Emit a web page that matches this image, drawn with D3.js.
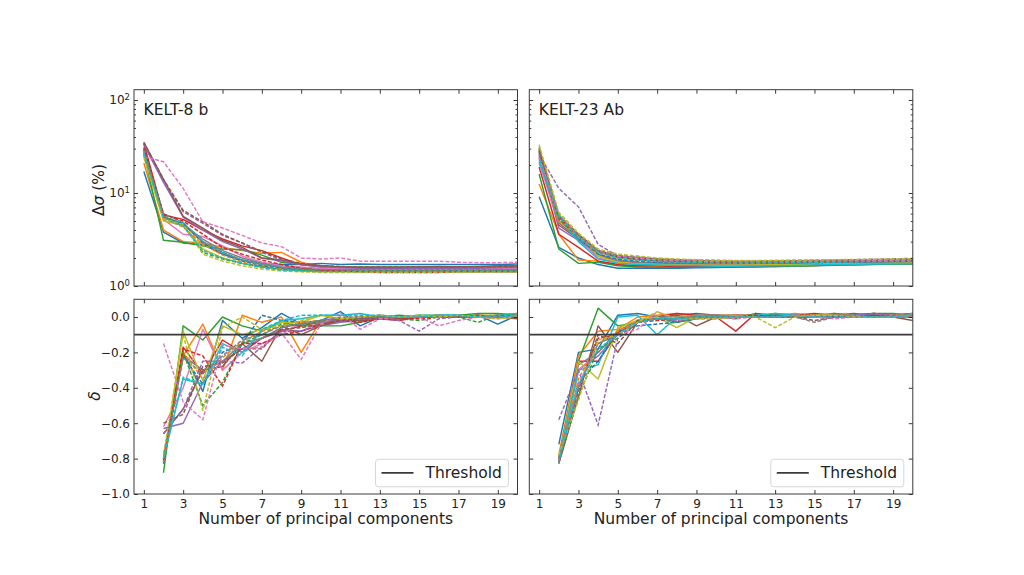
<!DOCTYPE html>
<html><head><meta charset="utf-8">
<script src="https://cdn.jsdelivr.net/npm/d3@7"></script>
<style>body{margin:0;background:#fff} text{font-family:"DejaVu Sans",sans-serif;fill:#222}</style>
</head><body><svg id="c" width="1024" height="575"></svg>
<script>
// ---------------- data ----------------
const colors = ["#1f77b4","#ff7f0e","#2ca02c","#d62728","#9467bd","#8c564b","#e377c2","#7f7f7f","#bcbd22","#17becf"];
const xTicks = [1,3,5,7,9,11,13,15,17,19];
const sigmaTicks = [1,10,100];
const deltaTicks = [0.0,-0.2,-0.4,-0.6,-0.8,-1.0];
const threshold = -0.1;
const titles = ["KELT-8 b","KELT-23 Ab"];

// Δσ (%) for n = 1..20, KELT-8 b
const k8SigmaSolid = [
 [17,3.8,2.9,2.8,2.2,1.9,1.75,1.7,1.7,1.75,1.7,1.72,1.7,1.7,1.7,1.7,1.7,1.7,1.7,1.72],
 [21,4.0,3.0,2.9,2.6,2.4,2.25,2.3,1.8,1.6,1.55,1.55,1.52,1.5,1.5,1.5,1.52,1.5,1.5,1.5],
 [27,3.1,2.95,2.7,2.5,2.45,2.15,1.8,1.7,1.65,1.6,1.6,1.6,1.6,1.6,1.62,1.6,1.62,1.65,1.65],
 [34,5.8,5.2,4.0,3.2,2.7,2.4,2.0,1.7,1.6,1.55,1.55,1.5,1.5,1.5,1.5,1.5,1.5,1.5,1.5],
 [33,13,5.5,4.0,3.0,2.5,2.0,1.85,1.7,1.6,1.55,1.55,1.55,1.55,1.55,1.55,1.55,1.55,1.55,1.55],
 [35,14,5.6,4.2,3.1,2.6,2.0,1.9,1.72,1.65,1.6,1.58,1.58,1.58,1.6,1.6,1.6,1.6,1.6,1.6],
 [30,5.2,3.6,3.4,2.7,2.1,1.8,1.65,1.6,1.55,1.52,1.5,1.5,1.5,1.5,1.5,1.5,1.5,1.52,1.52],
 [29,5.5,4.6,3.2,2.4,2.0,1.75,1.6,1.55,1.5,1.48,1.47,1.47,1.47,1.47,1.47,1.47,1.47,1.47,1.47],
 [25,5.0,4.5,2.5,2.0,1.75,1.6,1.5,1.45,1.42,1.42,1.42,1.42,1.42,1.42,1.42,1.42,1.42,1.42,1.42],
 [28,6.0,4.8,3.0,2.3,1.9,1.7,1.58,1.5,1.47,1.45,1.45,1.45,1.45,1.45,1.45,1.45,1.46,1.46,1.46]
];
const k8SigmaDashed = [
 [30,5.5,4.7,2.9,2.2,1.85,1.65,1.55,1.5,1.48,1.47,1.47,1.46,1.46,1.46,1.46,1.46,1.46,1.46,1.46],
 [28,5.3,4.3,2.8,2.15,1.8,1.62,1.52,1.48,1.45,1.45,1.45,1.45,1.45,1.45,1.45,1.45,1.45,1.45,1.45],
 [26,5.6,4.5,2.3,1.95,1.75,1.6,1.5,1.46,1.44,1.43,1.43,1.43,1.43,1.43,1.43,1.43,1.43,1.44,1.44],
 [31,5.9,5.0,3.6,2.6,2.2,1.9,1.7,1.55,1.48,1.45,1.42,1.4,1.4,1.4,1.4,1.42,1.42,1.42,1.42],
 [34,13.5,6.3,4.7,3.5,2.9,2.3,1.9,1.75,1.65,1.6,1.6,1.58,1.58,1.58,1.58,1.58,1.58,1.58,1.6],
 [35,14,6.5,4.9,3.6,2.9,2.35,1.95,1.75,1.65,1.62,1.6,1.6,1.6,1.6,1.6,1.6,1.6,1.62,1.62],
 [24.6,21.7,11.2,4.9,4.2,3.5,2.9,2.65,2.0,1.95,2.0,1.85,1.85,1.85,1.85,1.85,1.8,1.78,1.78,1.8],
 [29,5.7,4.6,3.0,2.3,1.9,1.7,1.58,1.52,1.5,1.5,1.5,1.5,1.5,1.5,1.5,1.5,1.5,1.5,1.5],
 [24,5.2,4.6,2.2,1.85,1.65,1.52,1.45,1.42,1.4,1.4,1.4,1.4,1.4,1.4,1.4,1.4,1.41,1.41,1.41],
 [27,5.4,4.4,2.4,2.0,1.75,1.58,1.48,1.45,1.43,1.43,1.43,1.43,1.43,1.43,1.43,1.43,1.43,1.43,1.43]
];
// δ for n = 2..20, KELT-8 b
const k8DeltaSolid = [
 [-0.78,-0.20,-0.42,-0.02,-0.12,-0.06,0.02,-0.04,-0.02,0.03,-0.05,0.0,0.0,0.0,0.01,0.0,0.01,-0.04,0.01],
 [-0.81,-0.22,-0.04,-0.30,0.01,-0.03,0.00,-0.20,-0.02,-0.01,0.0,0.0,0.0,0.01,0.0,0.01,0.0,0.01,0.02],
 [-0.88,-0.05,-0.13,0.00,-0.05,-0.08,-0.03,-0.05,-0.05,-0.05,-0.03,0.0,0.01,0.0,0.01,0.01,0.02,0.02,0.01],
 [-0.82,-0.17,-0.32,-0.13,-0.20,-0.12,-0.08,-0.05,-0.03,-0.02,-0.02,-0.01,-0.02,0.0,0.01,0.0,0.01,0.0,0.01],
 [-0.63,-0.60,-0.37,-0.25,-0.18,-0.12,-0.07,-0.08,-0.05,-0.03,-0.02,0.0,0.0,0.0,0.0,0.01,0.0,0.01,0.0],
 [-0.66,-0.52,-0.30,-0.28,-0.15,-0.25,-0.05,-0.10,-0.05,-0.02,-0.02,-0.01,0.0,0.0,0.0,0.0,0.01,0.0,-0.01],
 [-0.62,-0.40,-0.07,-0.30,-0.20,-0.15,-0.10,-0.03,-0.03,-0.01,0.0,0.01,0.0,0.0,0.01,0.0,0.01,0.0,0.01],
 [-0.80,-0.22,-0.30,-0.25,-0.15,-0.12,-0.06,-0.04,-0.03,-0.02,-0.01,-0.01,0.0,0.0,0.0,0.0,0.0,0.0,0.0],
 [-0.82,-0.08,-0.36,-0.05,-0.10,-0.07,-0.03,-0.03,0.01,-0.01,-0.01,0.01,0.0,0.01,0.01,0.0,0.01,0.01,0.01],
 [-0.80,-0.35,-0.38,-0.15,-0.20,-0.08,-0.02,-0.01,0.01,0.01,0.02,0.0,0.0,0.01,0.01,0.01,0.0,0.01,0.02]
];
const k8DeltaDashed = [
 [-0.83,-0.22,-0.38,-0.20,-0.15,0.01,-0.02,-0.03,-0.02,-0.01,0.0,0.0,0.0,0.0,0.0,0.0,0.01,0.0,0.0],
 [-0.82,-0.20,-0.35,-0.23,-0.14,-0.08,-0.05,-0.03,-0.02,-0.01,-0.01,0.0,0.0,0.0,0.01,0.0,0.0,0.01,0.0],
 [-0.80,-0.20,-0.50,-0.37,-0.15,-0.10,-0.04,-0.05,-0.02,-0.01,-0.01,0.0,-0.01,-0.02,0.0,0.0,-0.03,0.01,0.01],
 [-0.81,-0.18,-0.22,-0.39,-0.15,-0.15,-0.10,-0.08,-0.04,-0.02,-0.03,-0.01,-0.01,-0.01,0.0,0.0,0.0,0.0,0.0],
 [-0.66,-0.52,-0.25,-0.25,-0.26,-0.17,-0.08,-0.08,-0.03,-0.02,-0.01,-0.01,-0.02,-0.08,-0.01,0.0,0.0,0.0,0.01],
 [-0.60,-0.55,-0.28,-0.26,-0.18,-0.18,-0.07,-0.06,-0.04,-0.02,-0.01,-0.01,-0.01,0.0,0.0,0.0,0.0,0.0,0.0],
 [-0.15,-0.48,-0.58,-0.16,-0.18,-0.17,-0.09,-0.24,-0.04,0.02,-0.07,-0.01,0.0,0.0,-0.05,-0.02,0.0,-0.01,0.01],
 [-0.80,-0.23,-0.32,-0.22,-0.13,-0.10,-0.05,-0.04,-0.02,0.0,0.0,0.0,0.0,0.0,0.0,0.0,0.0,0.0,0.0],
 [-0.78,-0.10,-0.53,-0.06,0.00,-0.07,-0.05,-0.02,0.01,-0.01,0.0,0.01,0.0,0.01,0.0,0.01,0.0,-0.01,0.0],
 [-0.80,-0.34,-0.38,-0.17,-0.22,-0.07,-0.02,0.01,0.01,0.01,0.01,0.01,0.0,0.0,0.01,0.01,0.0,0.0,0.01]
];
// Δσ (%) for n = 1..20, KELT-23 Ab
const k23SigmaSolid = [
 [9.1,2.6,2.0,1.7,1.55,1.55,1.55,1.55,1.57,1.58,1.6,1.6,1.62,1.63,1.65,1.67,1.68,1.7,1.72,1.72],
 [12.5,3.6,1.9,1.85,1.7,1.6,1.6,1.6,1.6,1.6,1.62,1.63,1.63,1.65,1.66,1.68,1.7,1.72,1.73,1.74],
 [16,2.5,1.75,1.8,1.65,1.6,1.58,1.58,1.6,1.6,1.6,1.62,1.62,1.64,1.66,1.68,1.7,1.71,1.72,1.73],
 [19,3.6,2.6,1.85,1.7,1.65,1.65,1.62,1.62,1.62,1.62,1.64,1.65,1.67,1.68,1.7,1.72,1.74,1.75,1.76],
 [26,4.2,3.1,2.1,1.85,1.78,1.75,1.72,1.7,1.7,1.7,1.72,1.73,1.74,1.75,1.76,1.77,1.78,1.79,1.8],
 [28,4.5,3.2,2.2,1.8,1.78,1.75,1.72,1.7,1.7,1.7,1.72,1.73,1.74,1.75,1.76,1.77,1.78,1.79,1.8],
 [21,4.7,3.3,2.0,1.8,1.75,1.72,1.7,1.7,1.7,1.7,1.7,1.72,1.73,1.74,1.75,1.76,1.77,1.78,1.79],
 [24,4.8,3.2,2.2,1.9,1.8,1.78,1.75,1.72,1.72,1.72,1.73,1.74,1.75,1.76,1.77,1.78,1.79,1.8,1.8],
 [30,5.0,3.6,2.1,1.8,1.72,1.7,1.68,1.67,1.67,1.67,1.68,1.7,1.71,1.72,1.73,1.74,1.75,1.76,1.77],
 [22,5.5,3.0,1.95,1.75,1.7,1.68,1.66,1.65,1.63,1.63,1.64,1.65,1.66,1.68,1.7,1.71,1.72,1.73,1.74]
];
const k23SigmaDashed = [
 [25,5.3,3.3,2.2,1.95,1.85,1.8,1.78,1.76,1.75,1.75,1.76,1.77,1.78,1.79,1.8,1.81,1.82,1.83,1.84],
 [27,5.0,3.4,2.3,2.0,1.9,1.85,1.82,1.8,1.78,1.78,1.78,1.79,1.8,1.81,1.82,1.83,1.84,1.85,1.86],
 [29,5.2,3.4,2.4,2.05,1.95,1.88,1.85,1.82,1.8,1.8,1.8,1.81,1.82,1.83,1.84,1.85,1.86,1.87,1.88],
 [28,5.6,3.5,2.35,2.05,1.92,1.87,1.83,1.8,1.78,1.76,1.76,1.77,1.78,1.8,1.81,1.82,1.83,1.84,1.85],
 [26,11.2,7.1,2.8,2.1,2.05,1.95,1.9,1.88,1.85,1.85,1.85,1.86,1.87,1.88,1.9,1.92,1.94,1.96,1.98],
 [30,5.8,3.6,2.4,2.1,2.0,1.95,1.92,1.88,1.85,1.84,1.84,1.85,1.86,1.87,1.88,1.89,1.9,1.91,1.92],
 [24,6.0,3.4,2.4,2.1,2.0,1.92,1.88,1.85,1.82,1.82,1.82,1.83,1.84,1.85,1.86,1.87,1.88,1.89,1.9],
 [31,5.5,3.5,2.4,2.15,2.05,1.97,1.92,1.9,1.88,1.86,1.86,1.87,1.88,1.89,1.9,1.91,1.92,1.93,1.94],
 [33,6.2,3.7,2.5,2.2,2.1,2.0,1.95,1.92,1.9,1.88,1.88,1.89,1.9,1.91,1.92,1.93,1.94,1.95,1.96],
 [23,5.8,3.3,2.3,2.0,1.9,1.85,1.8,1.78,1.76,1.76,1.76,1.77,1.78,1.79,1.8,1.81,1.82,1.83,1.84]
];
// δ for n = 2..20, KELT-23 Ab
const k23DeltaSolid = [
 [-0.72,-0.20,-0.18,0.01,0.02,0.0,0.01,0.02,0.01,0.01,0.0,0.02,0.01,0.01,0.01,0.02,0.01,0.0,0.02],
 [-0.78,-0.22,-0.08,-0.07,0.0,0.01,0.02,0.01,0.01,0.01,0.01,0.01,0.02,0.01,0.02,0.01,0.02,0.01,0.02],
 [-0.82,-0.25,0.05,-0.05,-0.03,0.0,-0.03,0.0,0.0,-0.01,0.02,0.01,0.01,0.0,0.02,0.01,0.02,0.02,0.01],
 [-0.80,-0.25,-0.25,-0.09,-0.02,0.0,0.02,0.01,0.0,-0.08,0.02,0.0,0.01,0.02,0.01,0.01,0.02,0.01,0.02],
 [-0.82,-0.30,-0.22,-0.10,-0.03,-0.01,-0.01,0.0,0.01,0.0,0.01,0.0,0.01,0.01,0.0,0.01,0.01,0.0,0.01],
 [-0.83,-0.45,-0.05,-0.20,-0.03,0.0,0.01,-0.05,0.0,0.01,0.01,0.0,0.0,0.01,0.01,0.0,0.01,0.0,-0.02],
 [-0.82,-0.30,-0.20,-0.08,-0.02,-0.01,0.0,0.0,0.0,0.01,0.0,0.01,0.0,0.01,0.01,0.0,0.01,0.01,0.01],
 [-0.81,-0.27,-0.20,-0.08,-0.02,0.0,0.0,0.0,0.01,0.0,0.0,0.0,0.0,0.0,0.0,0.01,0.0,0.01,0.01],
 [-0.80,-0.25,-0.35,-0.06,-0.02,0.0,-0.06,0.0,0.0,0.0,0.01,0.0,0.01,0.01,0.01,0.01,0.0,0.01,0.01],
 [-0.80,-0.30,-0.27,0.0,0.01,-0.10,0.0,0.01,0.0,0.0,0.01,0.02,0.01,0.0,0.0,0.01,0.01,0.0,0.02]
];
const k23DeltaDashed = [
 [-0.80,-0.37,-0.25,-0.08,-0.05,-0.04,-0.03,-0.01,0.0,0.0,0.0,0.01,0.0,0.0,0.01,0.0,0.01,0.0,0.01],
 [-0.81,-0.35,-0.15,-0.08,-0.03,-0.01,0.0,0.0,0.0,0.01,0.0,0.0,0.01,0.0,0.01,0.01,0.0,0.01,0.01],
 [-0.82,-0.45,-0.18,-0.12,-0.03,-0.01,-0.03,-0.01,0.0,0.0,0.0,0.01,0.0,0.0,0.01,0.0,0.0,0.01,0.01],
 [-0.82,-0.40,-0.12,-0.10,-0.03,-0.02,-0.01,0.0,0.0,0.0,0.01,0.0,0.01,0.01,0.0,0.01,0.01,0.0,0.01],
 [-0.58,-0.30,-0.61,-0.12,-0.03,-0.01,-0.02,-0.01,-0.01,0.0,0.0,0.0,0.01,0.0,0.01,0.01,0.02,0.01,0.01],
 [-0.80,-0.42,-0.10,-0.15,-0.02,-0.01,-0.01,0.0,0.0,0.0,0.0,0.0,0.0,-0.02,0.0,0.0,0.0,0.0,0.0],
 [-0.80,-0.38,-0.15,-0.10,-0.07,0.03,-0.02,0.0,0.0,-0.01,0.0,0.0,0.01,0.0,-0.01,0.0,0.0,0.0,0.01],
 [-0.80,-0.40,-0.15,-0.10,-0.03,-0.01,-0.01,0.0,0.0,0.0,0.0,0.0,0.0,-0.03,0.0,0.0,0.0,0.0,0.0],
 [-0.78,-0.47,-0.13,-0.10,-0.03,0.03,-0.01,-0.01,-0.01,0.0,0.0,-0.06,0.0,0.01,0.01,0.0,0.0,0.0,0.01],
 [-0.82,-0.38,-0.18,-0.10,-0.03,-0.01,-0.01,0.0,0.0,0.0,0.0,0.0,0.01,0.0,0.0,0.01,0.0,0.0,0.01]
];

// ---------------- drawing ----------------
const svg = d3.select("#c");
const cols = [{x0:134, x1:517.5},{x0:529.3, x1:912.8}];
const rows = [{y0:89.7, y1:286},{y0:299.3, y1:494}];
const spineColor = "#3a3a3a";
let clipId = 0;

function minorLogTicks(){
  const t=[];
  [1,10].forEach(d=>{for(let k=2;k<=9;k++) t.push(k*d);});
  return t;
}

function panel(ci, ri, solid, dashed){
  const c = cols[ci], r = rows[ri];
  const x = d3.scaleLinear().domain([0.5,20]).range([c.x0,c.x1]);
  const y = ri===0 ? d3.scaleLog().domain([1,129]).range([r.y1,r.y0])
                   : d3.scaleLinear().domain([-1,0.1]).range([r.y1,r.y0]);
  const x0 = ri===0 ? 1 : 2;
  const g = svg.append("g");
  const id = "clip"+(clipId++);
  g.append("clipPath").attr("id",id).append("rect")
    .attr("x",c.x0).attr("y",r.y0).attr("width",c.x1-c.x0).attr("height",r.y1-r.y0);
  const plot = g.append("g").attr("clip-path",`url(#${id})`);
  const line = d3.line().x((d,i)=>x(i+x0)).y(d=>y(d));
  solid.forEach((s,i)=>{
    plot.append("path").attr("d",line(s)).attr("fill","none")
      .attr("stroke",colors[i]).attr("stroke-width",1.45).attr("stroke-linejoin","round");
  });
  dashed.forEach((s,i)=>{
    plot.append("path").attr("d",line(s)).attr("fill","none")
      .attr("stroke",colors[i]).attr("stroke-width",1.45).attr("stroke-dasharray","4,1.8");
  });
  if(ri===1){
    plot.append("line").attr("x1",c.x0).attr("x2",c.x1)
      .attr("y1",y(threshold)).attr("y2",y(threshold))
      .attr("stroke","#3a3a3a").attr("stroke-width",1.7);
  }
  const styleAxis = a => { a.select(".domain").remove(); a.selectAll("line").attr("stroke","#222").attr("stroke-width",0.9); a.selectAll("text").attr("font-size","12px").attr("fill","#222").attr("font-family","DejaVu Sans"); };
  const xb = g.append("g").attr("transform",`translate(0,${r.y1})`)
    .call(d3.axisBottom(x).tickValues(xTicks).tickSize(-4).tickPadding(5).tickFormat(ri===1? d3.format("d") : ""));
  styleAxis(xb);
  const xt = g.append("g").attr("transform",`translate(0,${r.y0})`)
    .call(d3.axisTop(x).tickValues(xTicks).tickSize(-4).tickFormat(""));
  styleAxis(xt);
  if(ri===0){
    const yl = g.append("g").attr("transform",`translate(${c.x0},0)`)
      .call(d3.axisLeft(y).tickValues(sigmaTicks).tickSize(-4).tickPadding(5).tickFormat(""));
    styleAxis(yl);
    if(ci===0){
      yl.selectAll(".tick").each(function(d){
        const t = d3.select(this).append("text").attr("x",-4).attr("dy","0.32em")
          .attr("text-anchor","end").attr("font-size","12px").attr("fill","#222");
        t.append("tspan").text("10");
        t.append("tspan").attr("font-size","8.5px").attr("dy","-0.55em").text(Math.round(Math.log10(d)));
      });
    }
    const ylm = g.append("g").attr("transform",`translate(${c.x0},0)`)
      .call(d3.axisLeft(y).tickValues(minorLogTicks()).tickSize(-2).tickFormat(""));
    styleAxis(ylm);
    const yr = g.append("g").attr("transform",`translate(${c.x1},0)`)
      .call(d3.axisRight(y).tickValues(sigmaTicks).tickSize(-4).tickFormat(""));
    styleAxis(yr);
    const yrm = g.append("g").attr("transform",`translate(${c.x1},0)`)
      .call(d3.axisRight(y).tickValues(minorLogTicks()).tickSize(-2).tickFormat(""));
    styleAxis(yrm);
  } else {
    const fmt = d => (d<0? "\u2212" : "") + Math.abs(d).toFixed(1);
    const yl = g.append("g").attr("transform",`translate(${c.x0},0)`)
      .call(d3.axisLeft(y).tickValues(deltaTicks).tickSize(-4).tickPadding(4).tickFormat(ci===0? fmt : ""));
    styleAxis(yl);
    const yr = g.append("g").attr("transform",`translate(${c.x1},0)`)
      .call(d3.axisRight(y).tickValues(deltaTicks).tickSize(-4).tickFormat(""));
    styleAxis(yr);
  }
  g.append("rect").attr("x",c.x0).attr("y",r.y0).attr("width",c.x1-c.x0).attr("height",r.y1-r.y0)
    .attr("fill","none").attr("stroke",spineColor).attr("stroke-width",1);
  if(ri===0){
    g.append("text").attr("x",c.x0+9.5).attr("y",r.y0+25).attr("font-size","15.5px").attr("fill","#111").text(titles[ci]);
  } else {
    const lx = c.x1 - 142, ly = 459.3;
    const lg = g.append("g");
    lg.append("rect").attr("x",lx).attr("y",ly).attr("width",133).attr("height",27.5)
      .attr("rx",3).attr("fill","#fff").attr("fill-opacity",0.85).attr("stroke","#d6d6d6").attr("stroke-width",1);
    lg.append("line").attr("x1",lx+6).attr("x2",lx+38).attr("y1",ly+13.5).attr("y2",ly+13.5)
      .attr("stroke","#3a3a3a").attr("stroke-width",1.7);
    lg.append("text").attr("x",lx+50).attr("y",ly+19).attr("font-size","15.5px").attr("fill","#111").text("Threshold");
    svg.append("text").attr("x",(c.x0+c.x1)/2).attr("y",524).attr("text-anchor","middle")
      .attr("font-size","15.5px").attr("fill","#111").text("Number of principal components");
  }
}

panel(0,0,k8SigmaSolid,k8SigmaDashed);
panel(1,0,k23SigmaSolid,k23SigmaDashed);
panel(0,1,k8DeltaSolid,k8DeltaDashed);
panel(1,1,k23DeltaSolid,k23DeltaDashed);

const yl1 = svg.append("text").attr("transform","translate(104,190) rotate(-90)")
  .attr("text-anchor","middle").attr("font-size","15.5px").attr("fill","#111");
yl1.append("tspan").text("\u0394");
yl1.append("tspan").attr("font-style","italic").text("\u03c3");
yl1.append("tspan").text(" (%)");
svg.append("text").attr("transform","translate(100,396) rotate(-90)")
  .attr("text-anchor","middle").attr("font-size","15.5px").attr("font-style","italic").attr("fill","#111").text("\u03b4");
</script></body></html>
